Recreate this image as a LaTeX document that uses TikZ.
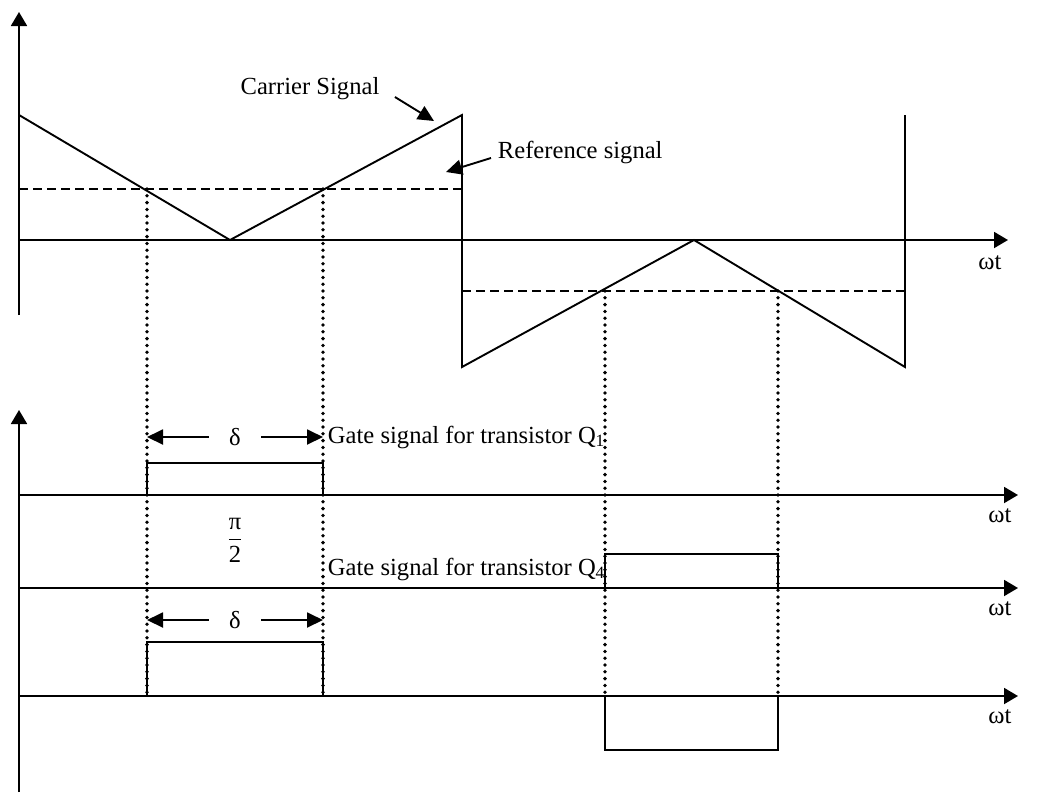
\documentclass[tikz,border=0pt]{standalone}
\usepackage{fontspec}
\setmainfont{Liberation Serif}
\usetikzlibrary{arrows.meta}

\begin{document}
\begin{tikzpicture}[x=0.5pt,y=-0.5pt,line width=0.95pt,
	akse/.style={-{Triangle[length=7pt,width=8pt]}},
	pil/.style={-{Triangle[length=8pt,width=7.5pt]}},
	refsig/.style={dash pattern=on 4.5pt off 2.5pt},
	prikk/.style={line width=1.9pt,line cap=round,dash pattern=on 0pt off 3.4pt},
	every node/.style={font=\fontsize{12.3}{14}\selectfont}]
		\useasboundingbox (0,0) rectangle (1057,800);
		%Akser oppe
		\draw [akse] (19,315) -- (19,12);
		\draw [akse] (19,240) -- (1008,240);
		\node (w0) at (990,263) {ωt};
		%Bærebølge og referanse
		\draw (19,115) -- (230,240) -- (462,115) -- (462,367) -- (694,240) -- (905,367) -- (905,115);
		\draw [refsig] (19,189) -- (462,189);
		\draw [refsig] (462,291) -- (905,291);
		\node (carr) at (310,89) {Carrier Signal};
		\node [anchor=west, inner sep=0pt] (refl) at (497,152) {Reference signal};
		\coordinate (ctip) at (434,121);
		\coordinate (rtip) at (446,172);
		\draw [pil] ([xshift=4pt,yshift=-4pt]carr.east) -- (ctip);
		\draw [pil] ([xshift=-3pt,yshift=-3pt]refl.west) -- (rtip);
		%Akser nede
		\draw [akse] (19,792) -- (19,410);
		\draw [akse] (19,495) -- (1018,495);
		\draw [akse] (19,588) -- (1018,588);
		\draw [akse] (19,696) -- (1018,696);
		\node (w1) at (1000,516) {ωt};
		\node (w2) at (1000,609) {ωt};
		\node (w3) at (1000,717) {ωt};
		%Pulser
		\draw (147,495) -- (147,463) -- (323,463) -- (323,495);
		\draw (605,588) -- (605,554) -- (778,554) -- (778,588);
		\draw (147,696) -- (147,642) -- (323,642) -- (323,696);
		\draw (605,696) -- (605,750) -- (778,750) -- (778,696);
		%Prikkede linjer
		\draw [prikk] (147,189) -- (147,696);
		\draw [prikk] (323,189) -- (323,696);
		\draw [prikk] (605,291) -- (605,696);
		\draw [prikk] (778,291) -- (778,696);
		%Pulsbredde
		\node [minimum width=25.5pt, inner sep=0pt] (d1) at (235,437) {δ};
		\node [minimum width=25.5pt, inner sep=0pt] (d2) at (235,620) {δ};
		\coordinate (a1) at (147,437);
		\coordinate (b1) at (323,437);
		\coordinate (a2) at (147,620);
		\coordinate (b2) at (323,620);
		\draw [pil] (d1.west) -- (a1);
		\draw [pil] (d1.east) -- (b1);
		\draw [pil] (d2.west) -- (a2);
		\draw [pil] (d2.east) -- (b2);
		\node (pi) at (235,540) {$\displaystyle\frac{\mbox{π}}{\mbox{2}}$};
		\node [anchor=west, inner sep=1pt] (q1) at (325,437) {Gate signal for transistor Q\textsubscript{1}};
		\node [anchor=west, inner sep=1pt] (q4) at (325,569) {Gate signal for transistor Q\textsubscript{4}};
	\end{tikzpicture}
\end{document}
